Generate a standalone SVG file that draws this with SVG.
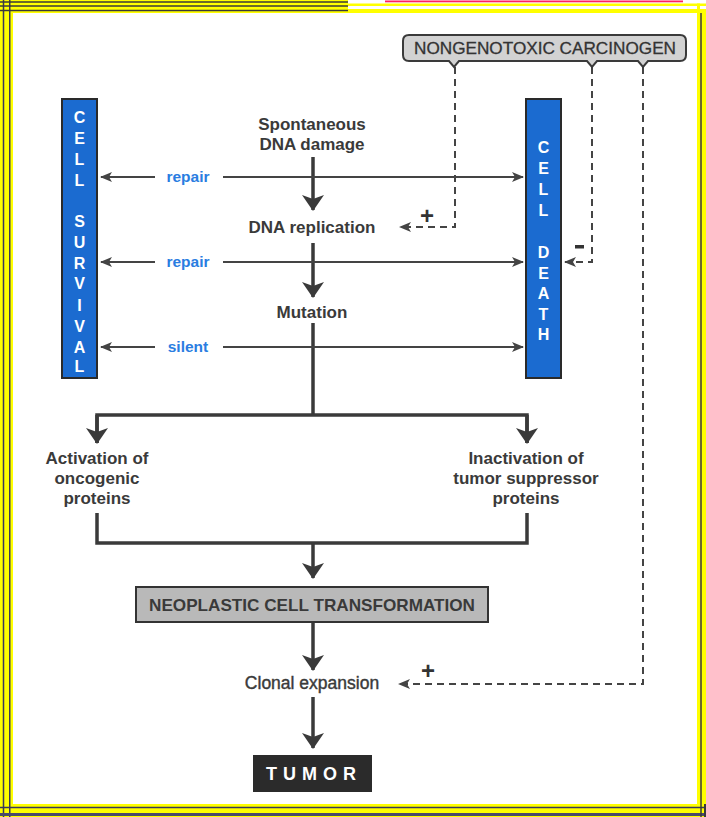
<svg xmlns="http://www.w3.org/2000/svg" width="706" height="817" viewBox="0 0 706 817">
  <style>
    .lbl { font-family: "Liberation Sans", Arial, sans-serif; font-weight: bold; font-size: 17px; fill: #3a3a3a; text-anchor: middle; }
    .blue { font-family: "Liberation Sans", Arial, sans-serif; font-weight: bold; font-size: 15.5px; fill: #2a7de1; text-anchor: middle; }
    .bar { fill: #1b6bd0; stroke: #2a2a2a; stroke-width: 2; }
    .barTxt { font-family: "Liberation Sans", Arial, sans-serif; font-weight: bold; font-size: 16px; fill: #ffffff; text-anchor: middle; }
    .thin { stroke: #444; stroke-width: 2; fill: none; }
    .thick { stroke: #3a3a3a; stroke-width: 3.5; fill: none; }
    .dash { stroke: #444; stroke-width: 2; fill: none; stroke-dasharray: 7 5; }
    .sign { font-family: "Liberation Sans", Arial, sans-serif; font-weight: bold; font-size: 24px; fill: #333; text-anchor: middle; }
  </style>
  <defs>
    <marker id="arrThin" viewBox="0 0 12 10" markerWidth="12" markerHeight="10" refX="11" refY="5" orient="auto" markerUnits="userSpaceOnUse">
      <path d="M0,0 L12,5 L0,10 L3,5 Z" fill="#444"/>
    </marker>
    <marker id="arrThick" viewBox="0 0 16 22" markerWidth="16" markerHeight="22" refX="15" refY="11" orient="auto" markerUnits="userSpaceOnUse">
      <path d="M0,0 L16,11 L0,22 L4,11 Z" fill="#3a3a3a"/>
    </marker>
  </defs>

  <!-- frame -->
  <g id="frame">
    <rect x="0" y="0" width="706" height="817" fill="#ffff00"/>
    <rect x="13" y="13" width="684" height="791" fill="#ffffff"/>
    <line x1="3.5" y1="0" x2="3.5" y2="817" stroke="#3a3a5a" stroke-width="1.5"/>
    <line x1="9.75" y1="0" x2="9.75" y2="817" stroke="#3a3a5a" stroke-width="1.5"/>
    <line x1="0" y1="807.5" x2="706" y2="807.5" stroke="#3a3a5a" stroke-width="1.5"/>
    <line x1="0" y1="814.5" x2="706" y2="814.5" stroke="#4a4a6a" stroke-width="3"/>
    <line x1="701" y1="13" x2="701" y2="817" stroke="#3a3a3a" stroke-width="1.5"/>
    <line x1="705" y1="13" x2="705" y2="817" stroke="#3a3a3a" stroke-width="2"/>
    <line x1="0" y1="2" x2="348" y2="2" stroke="#3a3a3a" stroke-width="1.5"/>
    <line x1="0" y1="6" x2="348" y2="6" stroke="#3a3a3a" stroke-width="1.5"/>
    <line x1="0" y1="10.5" x2="348" y2="10.5" stroke="#3a3a3a" stroke-width="1.5"/>
    <rect x="348" y="0" width="358" height="13" fill="#ffffff"/>
    <rect x="348" y="3.5" width="358" height="2.5" fill="#ffff00"/>
    <rect x="348" y="9" width="358" height="4" fill="#ffff00"/>
    <rect x="697" y="3.5" width="3" height="800" fill="#ffff00"/>
    <rect x="703" y="9" width="3" height="795" fill="#ffff00"/>
    <rect x="385" y="0.5" width="298" height="1.8" fill="#ff2060"/>
  </g>

  <!-- connectors -->
  <g id="connectors">
    <!-- main vertical flow -->
    <line class="thick" x1="313" y1="157" x2="313" y2="210" marker-end="url(#arrThick)"/>
    <line class="thick" x1="313" y1="243" x2="313" y2="297" marker-end="url(#arrThick)"/>
    <polyline class="thick" points="313,323 313,415"/>
    <polyline class="thick" points="97,443 97,415 527,415 527,443"/>
    <line class="thick" x1="97" y1="415" x2="97" y2="443" marker-end="url(#arrThick)"/>
    <line class="thick" x1="527" y1="415" x2="527" y2="443" marker-end="url(#arrThick)"/>
    <polyline class="thick" points="97,513 97,543 527,543 527,513"/>
    <line class="thick" x1="313" y1="543" x2="313" y2="578" marker-end="url(#arrThick)"/>
    <line class="thick" x1="313" y1="622" x2="313" y2="670" marker-end="url(#arrThick)"/>
    <line class="thick" x1="313" y1="697" x2="313" y2="748" marker-end="url(#arrThick)"/>

    <!-- side arrows -->
    <line class="thin" x1="155" y1="177" x2="101" y2="177" marker-end="url(#arrThin)"/>
    <line class="thin" x1="223" y1="177" x2="523" y2="177" marker-end="url(#arrThin)"/>
    <line class="thin" x1="155" y1="262" x2="101" y2="262" marker-end="url(#arrThin)"/>
    <line class="thin" x1="223" y1="262" x2="523" y2="262" marker-end="url(#arrThin)"/>
    <line class="thin" x1="155" y1="347" x2="101" y2="347" marker-end="url(#arrThin)"/>
    <line class="thin" x1="223" y1="347" x2="523" y2="347" marker-end="url(#arrThin)"/>

    <!-- carcinogen influences -->
    <polyline class="dash" points="455,67 455,227 400,227" marker-end="url(#arrThin)"/>
    <polyline class="dash" points="592,67 592,262 565,262" marker-end="url(#arrThin)"/>
    <polyline class="dash" points="643,67 643,684 399,684" marker-end="url(#arrThin)"/>
    <text class="sign" x="427" y="224">+</text>
    <rect x="575" y="245" width="9" height="3.5" fill="#333"/>
    <text class="sign" x="428" y="679">+</text>
  </g>

  <g id="carcinogen">
    <path d="M409,35 H680 Q686,35 686,41 V55 Q686,61 680,61 H648 L643,67 L638,61 H597 L592,67 L587,61 H459 L454,67 L449,61 H409 Q403,61 403,55 V41 Q403,35 409,35 Z" fill="#d2d2d2" stroke="#3a3a3a" stroke-width="2"/>
    <text x="545" y="54" font-family="'Liberation Sans', Arial, sans-serif" font-size="16.5" fill="#333" stroke="#333" stroke-width="0.3" text-anchor="middle" textLength="262" lengthAdjust="spacingAndGlyphs">NONGENOTOXIC CARCINOGEN</text>
  </g>

  <g id="cell-survival">
    <rect class="bar" x="62" y="99" width="35" height="279"/>
    <text class="barTxt" x="79.5" y="123">C</text>
    <text class="barTxt" x="79.5" y="144">E</text>
    <text class="barTxt" x="79.5" y="165">L</text>
    <text class="barTxt" x="79.5" y="186">L</text>
    <text class="barTxt" x="79.5" y="227">S</text>
    <text class="barTxt" x="79.5" y="248">U</text>
    <text class="barTxt" x="79.5" y="269">R</text>
    <text class="barTxt" x="79.5" y="289">V</text>
    <text class="barTxt" x="79.5" y="311">I</text>
    <text class="barTxt" x="79.5" y="332">V</text>
    <text class="barTxt" x="79.5" y="353">A</text>
    <text class="barTxt" x="79.5" y="372">L</text>
  </g>

  <g id="cell-death">
    <rect class="bar" x="526" y="99" width="35" height="279"/>
    <text class="barTxt" x="543.5" y="153">C</text>
    <text class="barTxt" x="543.5" y="174">E</text>
    <text class="barTxt" x="543.5" y="195">L</text>
    <text class="barTxt" x="543.5" y="216">L</text>
    <text class="barTxt" x="543.5" y="258">D</text>
    <text class="barTxt" x="543.5" y="279">E</text>
    <text class="barTxt" x="543.5" y="299">A</text>
    <text class="barTxt" x="543.5" y="320">T</text>
    <text class="barTxt" x="543.5" y="340">H</text>
  </g>

  <g id="labels-side">
    <text class="blue" x="188" y="182">repair</text>
    <text class="blue" x="188" y="267">repair</text>
    <text class="blue" x="188" y="352">silent</text>
  </g>

  <g id="dna-damage">
    <text class="lbl" x="312" y="130">Spontaneous</text>
    <text class="lbl" x="312" y="150">DNA damage</text>
  </g>
  <g id="dna-replication">
    <text class="lbl" x="312" y="233">DNA replication</text>
  </g>
  <g id="mutation">
    <text class="lbl" x="312" y="318">Mutation</text>
  </g>
  <g id="oncogenic">
    <text class="lbl" x="97" y="464">Activation of</text>
    <text class="lbl" x="97" y="484">oncogenic</text>
    <text class="lbl" x="97" y="504">proteins</text>
  </g>
  <g id="suppressor">
    <text class="lbl" x="526" y="464">Inactivation of</text>
    <text class="lbl" x="526" y="484">tumor suppressor</text>
    <text class="lbl" x="526" y="504">proteins</text>
  </g>
  <g id="transformation">
    <rect x="136" y="587" width="352" height="35" fill="#b9b9b9" stroke="#333" stroke-width="2"/>
    <text class="lbl" x="312" y="611" textLength="326" lengthAdjust="spacingAndGlyphs">NEOPLASTIC CELL TRANSFORMATION</text>
  </g>
  <g id="clonal">
    <text x="312" y="689" font-family="'Liberation Sans', Arial, sans-serif" font-size="17.5" fill="#3a3a3a" stroke="#3a3a3a" stroke-width="0.4" text-anchor="middle">Clonal expansion</text>
  </g>
  <g id="tumor">
    <rect x="253" y="755" width="119" height="37" fill="#2b2b2b"/>
    <text x="314" y="780" font-family="'Liberation Sans', Arial, sans-serif" font-weight="bold" font-size="18" fill="#ffffff" text-anchor="middle" letter-spacing="6">TUMOR</text>
  </g>
</svg>
